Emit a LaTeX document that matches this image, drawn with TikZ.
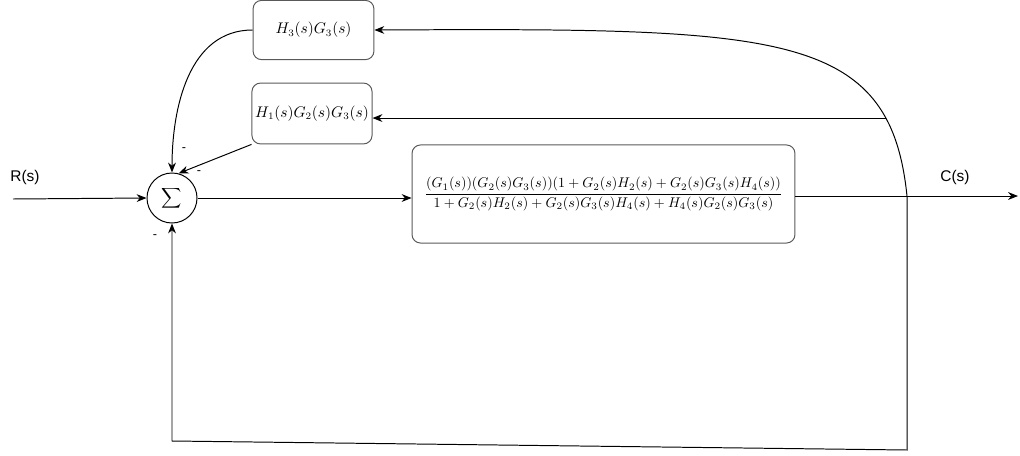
\documentclass[tikz,border=0pt]{standalone}
\usepackage{fontspec}
\usetikzlibrary{arrows.meta}
\newfontfamily\labelfont{Liberation Sans}

\begin{document}
\begin{tikzpicture}[x=0.025cm, y=-0.025cm, line width=0.7pt, >={Stealth[length=7pt, width=5.5pt, inset=2.2pt]},
		block/.style={draw=black!65, rounded corners=6pt, inner sep=0pt},
		tag/.style={font=\labelfont\fontsize{11}{13}\selectfont, inner sep=0pt},
		sign/.style={font=\labelfont\small, inner sep=0pt}]
			\useasboundingbox (0,0) rectangle (1020,455);

			\node[draw, circle, minimum size=1.25cm, inner sep=0pt] (sum) at (172,198) {$\displaystyle\sum$};
			\node[block, minimum width=3.02cm, minimum height=1.48cm, font=\fontsize{10.5}{12}\selectfont] (h3) at (313.5,30) {$H_3(s)G_3(s)$};
			\node[block, minimum width=3cm, minimum height=1.52cm, font=\fontsize{10.5}{12}\selectfont] (h1) at (312,113.5) {$H_1(s)G_2(s)G_3(s)$};
			\node[block, minimum width=9.57cm, minimum height=2.45cm] (plant) at (603.5,194)
				{$\displaystyle\frac{(G_1(s))(G_2(s)G_3(s))(1+G_2(s)H_2(s)+G_2(s)G_3(s)H_4(s))}{1+G_2(s)H_2(s)+G_2(s)G_3(s)H_4(s)+H_4(s)G_2(s)G_3(s)}$};

			\coordinate (R) at (13,199);
			\coordinate (C) at (1018,196);
			\coordinate (tap) at (907,196);
			\coordinate (br) at (907,450);
			\coordinate (bl) at (172,441);

			\node[tag] (rtext) at (25,177) {R(s)};
			\node[tag] (ctext) at (955,177) {C(s)};

			\draw[->] (R) -- (sum.west);
			\draw[->] (sum.east) -- (plant.west |- sum.east);
			\draw[->] (C -| plant.east) -- (C);

			\draw[->] (tap) .. controls (890,30) and (780,28) .. coordinate[pos=0.19] (tap2) (h3.east);
			\draw[->] (tap2) -- (tap2 -| h1.east);
			\draw[->] (h3.west) to[out=180, in=90] (sum.north);
			\draw[->] (h1.south west) -- (sum.75);
			\draw[->] (tap) -- (br) -- (bl) -- (sum.south);

			\node[sign] (m1) at (184,150) {-};
			\node[sign] (m2) at (199,173) {-};
			\node[sign] (m3) at (155,237) {-};
		\end{tikzpicture}
\end{document}
